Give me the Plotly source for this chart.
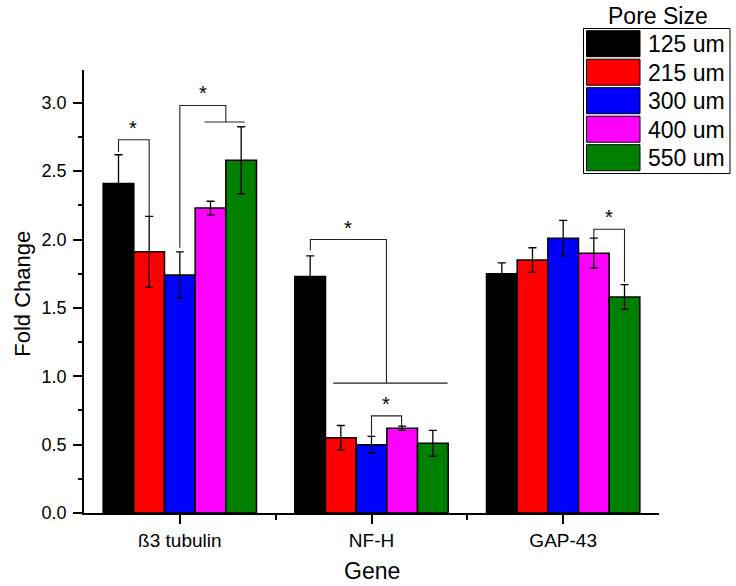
import plotly.graph_objects as go

# ---------------- data ----------------
genes = ["ß3 tubulin", "NF-H", "GAP-43"]
pore_sizes = ["125 um", "215 um", "300 um", "400 um", "550 um"]
colors = ["#000000", "#FF0000", "#0000FF", "#FF00FF", "#008000"]

fold_125 = [2.41, 1.73, 1.75]
fold_215 = [1.91, 0.55, 1.85]
fold_300 = [1.74, 0.50, 2.01]
fold_400 = [2.23, 0.62, 1.90]
fold_550 = [2.58, 0.51, 1.58]

err_125 = [0.21, 0.15, 0.08]
err_215 = [0.26, 0.09, 0.09]
err_300 = [0.17, 0.06, 0.13]
err_400 = [0.05, 0.015, 0.11]
err_550 = [0.245, 0.095, 0.09]

values = [fold_125, fold_215, fold_300, fold_400, fold_550]
errors = [err_125, err_215, err_300, err_400, err_550]

y_ticks = [0.0, 0.5, 1.0, 1.5, 2.0, 2.5, 3.0]

# significance brackets (x in category units, y in data units)
brackets = [
    [(-0.32, 2.64), (-0.32, 2.73), (-0.16, 2.73), (-0.16, 2.17)],
    [(0.0, 1.94), (0.0, 2.98), (0.24, 2.98), (0.24, 2.86)],
    [(0.129, 2.86), (0.338, 2.86)],
    [(0.681, 1.92), (0.681, 2.0), (1.078, 2.0), (1.078, 0.95)],
    [(0.80, 0.95), (1.397, 0.95)],
    [(1.0, 0.56), (1.0, 0.71), (1.157, 0.71), (1.157, 0.636)],
    [(2.16, 2.01), (2.16, 2.075), (2.32, 2.075), (2.32, 1.69)],
]
stars = [(-0.243, 2.85), (0.12, 3.107), (0.877, 2.124), (1.078, 0.832), (2.237, 2.204)]

# ---------------- layout constants ----------------
W, H = 736, 586
ML, MR, MT, MB = 84, 77, 70, 73
PW = W - ML - MR
PH = H - MT - MB
FONT = "Liberation Sans, Arial, sans-serif"


def px_x(px):
    return (px - ML) / PW


def px_y(py):
    return (H - MB - py) / PH


x_pos = list(range(len(genes)))

fig = go.Figure()
for name, col, vals, errs in zip(pore_sizes, colors, values, errors):
    fig.add_trace(go.Bar(
        x=x_pos, y=vals, name=name,
        marker=dict(color=col, line=dict(color="black", width=1.5)),
        error_y=dict(type="data", array=errs, symmetric=True,
                     color="black", thickness=1.3, width=4),
        showlegend=False,
    ))

shapes = []
for br in brackets:
    path = "M " + " L ".join(f"{x},{y}" for x, y in br)
    shapes.append(dict(type="path", path=path, xref="x", yref="y",
                       line=dict(color="#222222", width=1.1)))

annotations = []
for sx, sy in stars:
    annotations.append(dict(x=sx, y=sy, xref="x", yref="y", text="*",
                            showarrow=False, yshift=-5,
                            font=dict(family=FONT, size=20, color="black")))

# manual legend (large swatches like the reference)
shapes.append(dict(type="rect", xref="paper", yref="paper",
                   x0=px_x(583.5), x1=px_x(730), y0=px_y(173.5), y1=px_y(28.5),
                   line=dict(color="black", width=1), fillcolor="white", layer="above"))
annotations.append(dict(x=px_x(658), y=px_y(16), xref="paper", yref="paper",
                        text="Pore Size", showarrow=False, xanchor="center", yanchor="middle",
                        font=dict(family=FONT, size=23, color="black")))
for i, (name, col) in enumerate(zip(pore_sizes, colors)):
    top = 30.7 + i * 28.5
    shapes.append(dict(type="rect", xref="paper", yref="paper",
                       x0=px_x(586.5), x1=px_x(640), y0=px_y(top + 26), y1=px_y(top),
                       line=dict(color="black", width=1), fillcolor=col, layer="above"))
    annotations.append(dict(x=px_x(646), y=px_y(top + 13.5), xref="paper", yref="paper",
                            text=name, showarrow=False, xanchor="left", yanchor="middle",
                            font=dict(family=FONT, size=23, color="black")))

# axis titles
annotations.append(dict(x=px_x(372), y=px_y(585.5), xref="paper", yref="paper",
                        text="Gene", showarrow=False, xanchor="center", yanchor="bottom",
                        font=dict(family=FONT, size=23, color="black")))
annotations.append(dict(x=px_x(21.7), y=px_y(294), xref="paper", yref="paper",
                        text="Fold Change", showarrow=False, textangle=-90,
                        xanchor="center", yanchor="middle",
                        font=dict(family=FONT, size=22, color="black")))

fig.update_layout(
    width=W, height=H,
    margin=dict(l=ML, r=MR, t=MT, b=MB, pad=0),
    paper_bgcolor="white", plot_bgcolor="white",
    barmode="group", bargap=0.2, bargroupgap=0,
    font=dict(family=FONT, size=18, color="black"),
    shapes=shapes, annotations=annotations,
    showlegend=False,
    xaxis=dict(
        range=[-0.5, 2.5], tickmode="array", tickvals=x_pos, ticktext=genes,
        showline=True, linecolor="black", linewidth=1.5, mirror=False,
        ticks="outside", ticklen=9, tickwidth=1.5, tickcolor="black",
        showgrid=False, zeroline=False,
        tickfont=dict(family=FONT, size=19, color="black"),
        minor=dict(tickmode="array", tickvals=[0.5, 1.5], ticks="outside",
                   ticklen=5, tickwidth=1.5, tickcolor="black", showgrid=False),
    ),
    yaxis=dict(
        range=[0, 3.24], tickmode="array", tickvals=y_ticks, tickformat=".1f",
        showline=True, linecolor="black", linewidth=1.5,
        ticks="outside", ticklen=9, tickwidth=1.5, tickcolor="black",
        showgrid=False, zeroline=False, ticklabelstandoff=3,
        tickfont=dict(family=FONT, size=18, color="black"),
        minor=dict(dtick=0.25, tick0=0, ticks="outside", ticklen=4,
                   tickwidth=1.5, tickcolor="black", showgrid=False),
    ),
)

fig.write_html(
    "out.html",
    config={"displayModeBar": False},
    post_script="document.body.style.margin='0';document.body.style.overflow='hidden';",
)
